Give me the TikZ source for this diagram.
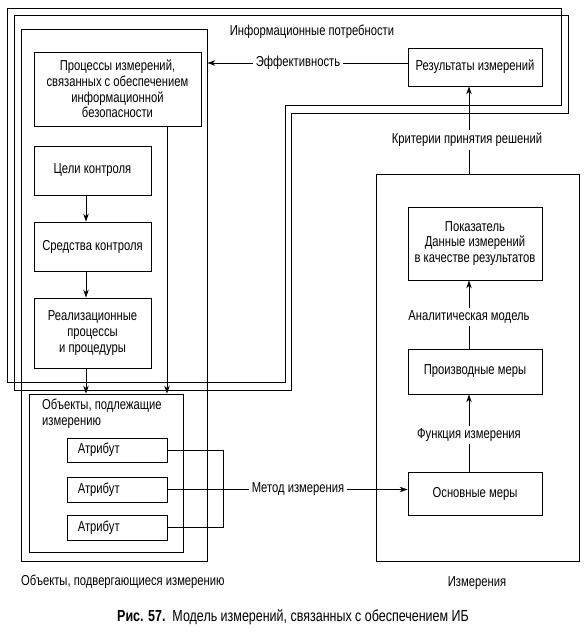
\documentclass[tikz,border=0pt]{standalone}
\usepackage{fontspec}
\setmainfont{Liberation Sans}[FakeStretch=0.78]
\usetikzlibrary{arrows.meta}
\begin{document}
\begin{tikzpicture}[x=1pt,y=-1pt, font=\fontsize{14.4}{15.7}\selectfont,
 box/.style={draw, line width=0.8pt, inner sep=0pt, align=center},
 arr/.style={line width=0.8pt, -{Stealth[length=8pt,width=5.5pt]}},
 ln/.style={line width=0.8pt},
 lbl/.style={fill=white, inner sep=3pt}]
\useasboundingbox (0,0) rectangle (586,633);
% double frame
\draw[ln] (7,8) -- (561,8) -- (561,105) -- (285,105) -- (285,382) -- (7,382) -- cycle;
\draw[ln] (14,15) -- (568,15) -- (568,113) -- (291,113) -- (291,390) -- (14,390) -- cycle;
\node[inner sep=0pt] (needs) at (312,32) {Информационные потребности};
% left column
\node[box, minimum width=186pt, minimum height=532pt] (leftcol) at (114,295) {};
\node[box, minimum width=167pt, minimum height=74pt] (proc) at (117.5,89) {Процессы измерений,\\связанных с обеспечением\\информационной\\безопасности};
\node[box, minimum width=117pt, minimum height=49pt] (goals) at (92.5,170.5) {Цели контроля};
\node[box, minimum width=117pt, minimum height=49pt] (means) at (92.5,246.5) {Средства контроля};
\node[box, minimum width=117pt, minimum height=70pt] (impl) at (92.5,333) {Реализационные\\процессы\\и процедуры};
\node[box, minimum width=154pt, minimum height=158pt] (objs) at (106,473) {};
\node[anchor=north west, inner sep=0pt, align=left] (objslbl) at (42,399) {Объекты, подлежащие\\измерению};
\node[box, minimum width=100pt, minimum height=24pt] (a1) at (117,450) {};
\node[box, minimum width=100pt, minimum height=25pt] (a2) at (117,489.5) {};
\node[box, minimum width=100pt, minimum height=25pt] (a3) at (117,527.5) {};
\node[anchor=west, inner sep=0pt] (t1) at ([xshift=11pt]a1.west) {Атрибут};
\node[anchor=west, inner sep=0pt] (t2) at ([xshift=11pt]a2.west) {Атрибут};
\node[anchor=west, inner sep=0pt] (t3) at ([xshift=11pt]a3.west) {Атрибут};
% right column
\node[box, minimum width=134pt, minimum height=38pt] (res) at (475,67) {Результаты измерений};
\node[box, minimum width=203pt, minimum height=387pt] (rightcol) at (477.5,367.5) {};
\node[box, minimum width=134pt, minimum height=73pt] (ind) at (475,243.5) {Показатель\\Данные измерений\\в качестве результатов};
\node[box, minimum width=134pt, minimum height=45pt] (deriv) at (475,371.5) {Производные меры};
\node[box, minimum width=134pt, minimum height=43pt] (base) at (475,493.5) {Основные меры};
% arrows left
\draw[arr] (goals.south -| 86,0) -- (means.north -| 86,0);
\draw[arr] (means.south -| 86,0) -- (impl.north -| 86,0);
\draw[arr] (impl.south -| 86,0) -- (objs.north -| 86,0);
\draw[arr] (proc.south -| 167,0) -- (objs.north -| 167,0);
% effectiveness
\draw[arr] (res.west |- 0,63) -- (leftcol.east |- 0,63);
\node[lbl] (eff) at (298,63) {Эффективность};
% criteria
\draw[arr] (rightcol.north -| 469,0) -- (res.south -| 469,0);
\node[lbl] (crit) at (467,140) {Критерии принятия решений};
\draw[arr] (deriv.north -| 469,0) -- (ind.south -| 469,0);
\node[lbl] (anal) at (469,317) {Аналитическая модель};
\draw[arr] (base.north -| 469,0) -- (deriv.south -| 469,0);
\node[lbl] (func) at (469,435) {Функция измерения};
% method
\coordinate (j1) at (223,450);
\coordinate (j3) at (223,527.5);
\draw[ln] (a1.east) -- (j1) -- (j3) -- (a3.east);
\draw[arr] (a2.east) -- (base.west |- a2.east);
\node[lbl] (meth) at (298,489.5) {Метод измерения};
% bottom labels
\node[anchor=west, inner sep=0pt] (objsub) at (21,582) {Объекты, подвергающиеся измерению};
\node[inner sep=0pt] (meas) at (477,583) {Измерения};
\node[inner sep=0pt, font=\fontsize{16}{18}\selectfont] (cap) at (293,617) {{\bfseries Рис. 57.}\ \ Модель измерений, связанных с обеспечением ИБ};
\end{tikzpicture}
\end{document}
